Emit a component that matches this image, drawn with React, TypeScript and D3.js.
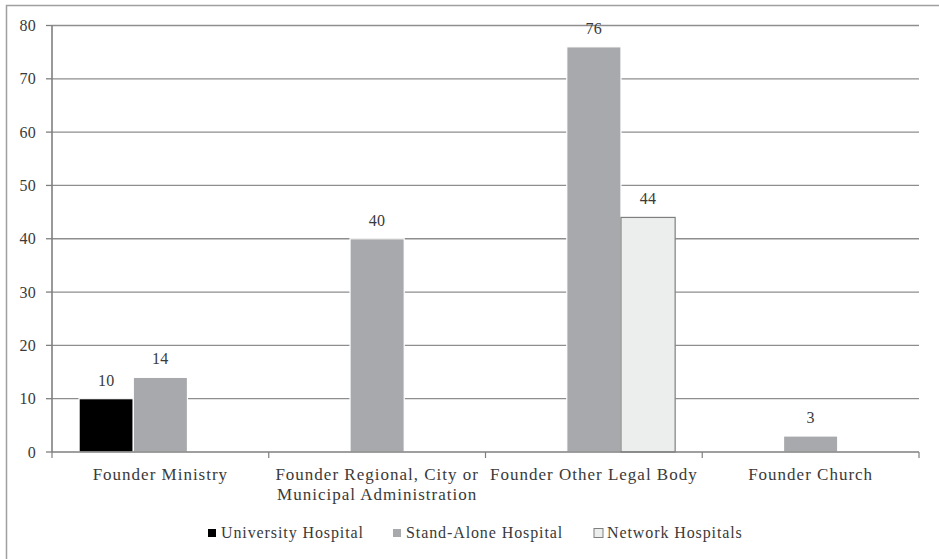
import React from "react";
import * as d3 from "d3";

const categories: string[][] = [
  ["Founder Ministry"],
  ["Founder Regional, City or", "Municipal Administration"],
  ["Founder Other Legal Body"],
  ["Founder Church"],
];
const seriesNames = ["University Hospital", "Stand-Alone Hospital", "Network Hospitals"];
const universityValues = [10, 0, 0, 0];
const standAloneValues = [14, 40, 76, 3];
const networkValues = [0, 0, 44, 0];
const yTicks = [0, 10, 20, 30, 40, 50, 60, 70, 80];

const seriesFill = ["#000000", "#a7a9ac", "#eceeed"];
const seriesStroke = ["#ffffff", "#ffffff", "#7f7f7f"];
const legendX = [208, 393, 594];

const W = 939;
const H = 559;
const FONT = "Liberation Serif, Times New Roman, serif";
const TEXT = "#3a3a3a";
const ts = { fontFamily: FONT };

export default function App() {
  const values = [universityValues, standAloneValues, networkValues];
  const catIdx = categories.map((_, i) => String(i));
  const x0 = d3.scaleBand<string>().domain(catIdx).range([52, 919]).paddingInner(0).paddingOuter(0);
  const x1 = d3
    .scaleBand<string>()
    .domain(seriesNames)
    .range([0, x0.bandwidth()])
    .paddingInner(0)
    .paddingOuter(0.5);
  const y = d3.scaleLinear().domain([0, 80]).range([452, 25.5]);
  const boundaries = [...catIdx.map((c) => x0(c)!), 919];

  return (
    <svg
      width={W}
      height={H}
      style={{ position: "absolute", left: 0, top: 0, background: "#fff", fontFamily: FONT }}
    >
      <rect x={6.5} y={5.5} width={W + 20} height={H + 20} fill="#fff" stroke="#a0a0a0" strokeWidth={1.5} />
      {yTicks.map((t) => (
        <g key={t}>
          {t > 0 && (
            <line x1={52} x2={919} y1={y(t)} y2={y(t)} stroke="#8e8e8e" strokeWidth={1.3} />
          )}
          <line x1={46} x2={52} y1={y(t)} y2={y(t)} stroke="#7f7f7f" strokeWidth={1.3} />
          <text
            x={36}
            y={y(t)}
            textAnchor="end"
            dominantBaseline="central"
            fontSize={16}
            letterSpacing={0.3}
            fill={TEXT}
            style={ts}
          >
            {t}
          </text>
        </g>
      ))}
      {values.map((vals, s) =>
        vals.map((v, c) =>
          v > 0 ? (
            <g key={`${s}-${c}`}>
              <rect
                x={x0(String(c))! + x1(seriesNames[s])!}
                y={y(v)}
                width={x1.bandwidth()}
                height={y(0) - y(v)}
                fill={seriesFill[s]}
                stroke={seriesStroke[s]}
                strokeWidth={1.2}
              />
              <text
                x={x0(String(c))! + x1(seriesNames[s])! + x1.bandwidth() / 2}
                y={y(v) - 13}
                textAnchor="middle"
                fontSize={16}
                letterSpacing={0.3}
                fill={TEXT}
                style={ts}
              >
                {v}
              </text>
            </g>
          ) : null
        )
      )}
      <line x1={52} x2={52} y1={y(80)} y2={y(0)} stroke="#7f7f7f" strokeWidth={1.6} />
      <line x1={52} x2={919} y1={y(0)} y2={y(0)} stroke="#7f7f7f" strokeWidth={1.6} />
      {boundaries.map((b, i) => (
        <line key={i} x1={b} x2={b} y1={y(0)} y2={y(0) + 6} stroke="#7f7f7f" strokeWidth={1.2} />
      ))}
      {categories.map((lines, c) => (
        <text
          key={c}
          x={x0(String(c))! + x0.bandwidth() / 2}
          y={480}
          textAnchor="middle"
          fontSize={17}
          letterSpacing={1.0}
          fill={TEXT}
          style={ts}
        >
          {lines.map((ln, k) => (
            <tspan key={k} x={x0(String(c))! + x0.bandwidth() / 2} dy={k === 0 ? 0 : 20}>
              {ln}
            </tspan>
          ))}
        </text>
      ))}
      {seriesNames.map((name, s) => (
        <g key={name}>
          <rect
            x={legendX[s]}
            y={s === 2 ? 528.5 : 529}
            width={s === 2 ? 9 : 8}
            height={s === 2 ? 9 : 8}
            fill={seriesFill[s]}
            stroke={s === 2 ? "#7f7f7f" : "none"}
            strokeWidth={1}
          />
          <text
            x={legendX[s] + 13}
            y={538}
            fontSize={16}
            letterSpacing={0.9}
            fill={TEXT}
            style={ts}
          >
            {name}
          </text>
        </g>
      ))}
    </svg>
  );
}
